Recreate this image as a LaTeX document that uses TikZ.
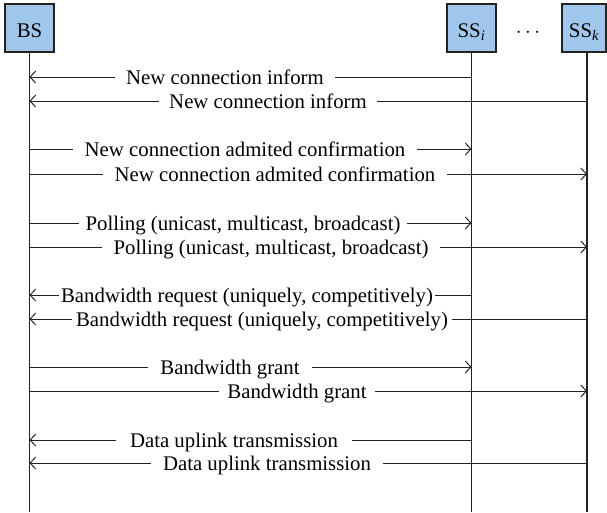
\documentclass[tikz,border=0pt]{standalone}
\usepackage{fontspec}
\setmainfont{Liberation Serif}
\usetikzlibrary{arrows.meta}
\definecolor{boxblue}{RGB}{160,199,235}
\definecolor{ink}{RGB}{35,35,35}
\begin{document}
\begin{tikzpicture}[x=1pt,y=-1pt,
  font=\fontsize{20.8}{25}\selectfont,
  actor/.style={draw=ink, line width=1.3pt, fill=boxblue, minimum width=49pt,
    minimum height=48pt, inner sep=0pt, text height=18pt, text depth=0pt, text=black},
  life/.style={draw=ink, line width=1.4pt},
  msg/.style={draw=ink, line width=1pt, -{Straight Barb[length=5.5pt,width=12pt,line width=1pt]}},
  lbl/.style={fill=white, anchor=base, inner ysep=1pt, text=black}]
\useasboundingbox (0,0) rectangle (607,512);
\fill[white] (0,0) rectangle (607,512);
% actors
\node[actor] (bs) at (29.5,28) {BS};
\node[actor] (ssi) at (471.5,28) {SS\textsubscript{\itshape i}};
\node[actor, minimum width=44pt] (ssk) at (584,28) {SS\textsubscript{\itshape k}};
\node[anchor=base, text=black] (dots) at (528,37) {$\cdots$};
\coordinate (bot) at (0,512);
\coordinate (kx) at (587,0);
% lifelines
\draw[life] (bs.south) -- (bs |- bot);
\draw[life] (ssi.south) -- (ssi |- bot);
\draw[life] (kx |- ssk.south) -- (kx |- bot);
% rows
\coordinate (y1) at (0,77);
\coordinate (y2) at (0,101);
\coordinate (y3) at (0,149);
\coordinate (y4) at (0,174);
\coordinate (y5) at (0,223);
\coordinate (y6) at (0,247);
\coordinate (y7) at (0,295);
\coordinate (y8) at (0,319);
\coordinate (y9) at (0,367);
\coordinate (y10) at (0,391);
\coordinate (y11) at (0,440);
\coordinate (y12) at (0,463);
% messages
\draw[msg] (ssi |- y1) -- (bs |- y1);
\node[lbl, inner xsep=11pt] (t1) at (225,84) {New connection inform};
\draw[msg] (kx |- y2) -- (bs |- y2);
\node[lbl, inner xsep=10pt] (t2) at (268,108) {New connection inform};

\draw[msg] (bs |- y3) -- (ssi |- y3);
\node[lbl, inner xsep=12pt] (t3) at (245,156) {New connection admited confirmation};
\draw[msg] (bs |- y4) -- (kx |- y4);
\node[lbl, inner xsep=12pt] (t4) at (275,181) {New connection admited confirmation};

\draw[msg] (bs |- y5) -- (ssi |- y5);
\node[lbl, inner xsep=7pt] (t5) at (243,230) {Polling (unicast, multicast, broadcast)};
\draw[msg] (bs |- y6) -- (kx |- y6);
\node[lbl, inner xsep=12pt] (t6) at (271,254) {Polling (unicast, multicast, broadcast)};

\draw[msg] (ssi |- y7) -- (bs |- y7);
\node[lbl, inner xsep=2pt] (t7) at (247,302) {Bandwidth request (uniquely, competitively)};
\draw[msg] (kx |- y8) -- (bs |- y8);
\node[lbl, inner xsep=4pt] (t8) at (262,326) {Bandwidth request (uniquely, competitively)};

\draw[msg] (bs |- y9) -- (ssi |- y9);
\node[lbl, inner xsep=12pt] (t9) at (230,374) {Bandwidth grant};
\draw[msg] (bs |- y10) -- (kx |- y10);
\node[lbl, inner xsep=8pt] (t10) at (297,398) {Bandwidth grant};

\draw[msg] (ssi |- y11) -- (bs |- y11);
\node[lbl, inner xsep=14pt] (t11) at (234,447) {Data uplink transmission};
\draw[msg] (kx |- y12) -- (bs |- y12);
\node[lbl, inner xsep=12pt] (t12) at (267,470) {Data uplink transmission};
\end{tikzpicture}
\end{document}
